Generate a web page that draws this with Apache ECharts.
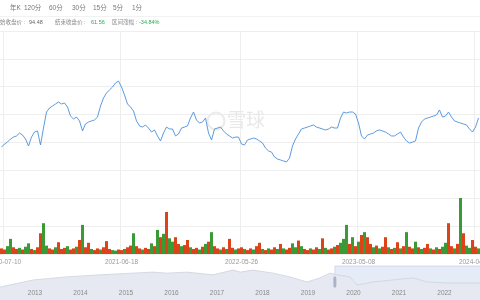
<!DOCTYPE html>
<html><head><meta charset="utf-8">
<script src="https://cdn.jsdelivr.net/npm/echarts@6/dist/echarts.min.js"></script>
<style>html,body{margin:0;padding:0;background:#fff}#c{width:480px;height:300px}</style>
</head><body><div id="c"></div>
<script>
const periodTabs = ['年K','120分','60分','30分','15分','5分','1分'];
const statLabels = ['起始收盘价 : ','结束收盘价 : ','区间涨幅 : '];
const statValues = ['94.48','61.56','-34.84%'];
const dateTicks = {1:'2020-07-10',40:'2021-06-18',80:'2022-05-26',119:'2023-05-08',158:'2024-04-19'};
const priceValues = [
16.5,18.7,20.1,22.3,23.7,24.5,26.6,25.2,22.3,17.3,
23.7,27.3,28.1,18.0,30.2,41.7,44.6,46.0,47.5,48.9,
47.5,48.2,45.3,38.8,36.7,38.1,35.3,28.1,33.1,34.5,
35.3,36.0,38.1,46.0,51.8,55.4,57.6,59.7,62.6,64.0,
59.7,54.0,47.5,45.3,42.4,35.3,31.7,30.9,32.4,30.2,
27.3,28.8,24.5,20.9,26.6,30.9,29.5,29.5,24.5,25.9,
30.2,30.9,31.7,37.4,41.7,36.0,33.8,34.5,37.4,26.6,
21.6,29.5,30.2,30.9,28.1,25.9,24.5,23.0,23.7,23.7,
18.7,18.0,21.6,22.3,23.0,22.3,20.9,19.4,15.8,13.7,
12.9,9.4,7.9,7.2,6.5,5.8,8.6,17.3,22.3,25.9,
29.5,30.2,30.9,31.7,32.4,30.9,30.2,29.5,28.8,29.5,
30.9,30.2,30.2,37.4,41.7,41.0,41.7,41.7,40.3,33.8,
24.5,22.3,25.2,25.9,26.6,28.1,28.8,28.1,27.3,25.9,
24.5,24.5,25.9,27.3,23.7,20.9,19.4,20.1,20.9,30.2,
34.5,36.7,37.4,38.1,38.8,39.6,43.2,38.1,38.8,41.7,
38.1,35.3,34.5,33.8,33.1,32.4,29.5,27.3,30.9,37.4
];
const volumeValues = [
10,8,14,27,12,9,11,8,13,19,
9,7,12,37,55,15,10,8,12,21,
9,11,14,8,10,13,25,52,12,20,
9,7,10,8,12,23,9,7,6,8,
7,9,12,15,37,14,10,8,11,9,
19,14,43,30,36,75,28,22,30,18,
14,16,25,12,9,11,8,13,18,22,
39,14,10,8,12,9,27,11,8,10,
12,9,7,10,8,14,20,9,7,10,
8,12,9,18,10,8,11,19,12,24,
14,9,7,10,8,12,9,28,11,8,
10,13,16,20,27,52,18,30,14,22,
34,39,30,18,12,15,10,13,30,12,
9,11,21,10,14,39,13,10,22,12,
9,11,18,10,8,12,9,13,20,55,
14,10,18,100,37,15,11,25,13,10
];
const volumeDir =
  'rrggrrgrgg'+'rgrrggrrgr'+'rrgrrgrgrr'+'grrgrrrggr'+'rgrrgrrgrr'+'grgrgrggrr'+
  'grrgrrgrgr'+'grrgrgrrgr'+'rgrrgrrgrg'+'rrgrgrrggr'+'grrgrrgrgr'+'rgrgggrgrg'+
  'rgrrgrgrrg'+'rgrgrgrrgr'+'grrgrgrggr'+'rgrgrggrrg';
const sliderYears = [2012.0,2012.23,2012.96,2013.70,2014.43,2015.15,2015.59,2015.90,2016.34,2016.91,2017.35,2017.51,2017.79,2018.23,2018.60,2018.98,2019.26,2019.48,2019.64,2019.92,2020.08,2020.43,2020.87,2021.31,2021.62,2022.05,2022.63,2023.0];
const sliderValues = [35,38,59,68,74,79,82,79,82,74,88,82,88,79,68,53,65,79,74,68,44,53,59,65,53,50,50,50];
const sliderWindow = [2019.59, 2023.0];

const categories = priceValues.map((_, i) => String(i));
const RED = '#dc4319', GREEN = '#3a9a35';
const FONT = '"Liberation Sans", "Noto Sans CJK SC", sans-serif';
const isTick = (i) => Object.prototype.hasOwnProperty.call(dateTicks, i);

const graphics = [];
const tabX = [10, 24, 49, 72, 93, 113, 132];
periodTabs.forEach((t, i) => graphics.push({type:'text', left: tabX[i], top: 4.5,
  style:{text:t, fill:'#777', font:'6.5px ' + FONT}}));
graphics.push({type:'rect', left:0, top:16, shape:{width:480, height:0.8}, style:{fill:'#eeeeee'}});
const statX = [[-5.5, 29], [55, 91], [112, 139]];
statLabels.forEach((t, i) => {
  graphics.push({type:'text', left: statX[i][0], top: 19.5, style:{text:t, fill:'#888', font:'5.5px ' + FONT}});
  graphics.push({type:'text', left: statX[i][1], top: 19.5, style:{text:statValues[i], fill: i === 0 ? '#666' : '#2eaa55', font:'5.5px ' + FONT}});
});
graphics.push({type:'circle', shape:{cx:216, cy:121, r:8.5}, style:{fill:'none', stroke:'#ebebeb', lineWidth:2.2}, z:1});
graphics.push({type:'text', left:227, top:110, style:{text:'雪球', fill:'#e8e8e8', font:'19px "Noto Sans CJK SC", sans-serif'}, z:1});

const chart = echarts.init(document.getElementById('c'), null, {renderer:'canvas'});
chart.setOption({
  animation:false,
  backgroundColor:'#fff',
  graphic: graphics,
  grid:[
    {left:0, right:0, top:31, height:139, outerBoundsMode:'none'},
    {left:0, right:0, top:170, height:84, outerBoundsMode:'none'},
    {left:-10.5, right:-10, top:266, bottom:0, outerBoundsMode:'none'}
  ],
  xAxis:[
    {type:'category', gridIndex:0, data:categories, boundaryGap:true,
     axisLine:{show:false}, axisTick:{show:false}, axisLabel:{show:false},
     splitLine:{show:true, interval:(i)=>isTick(i), lineStyle:{color:'#eeeeee', width:1}}},
    {type:'category', gridIndex:1, data:categories, boundaryGap:true,
     axisLine:{show:false}, axisTick:{show:false},
     axisLabel:{show:true, interval:(i)=>isTick(i), formatter:(v, i)=>dateTicks[i] || '',
       fontSize:6.5, color:'#9a9a9a', margin:5, fontFamily:FONT},
     splitLine:{show:true, interval:(i)=>isTick(i), lineStyle:{color:'#eeeeee', width:1}}},
    {type:'value', gridIndex:2, min:2012, max:2023, interval:1, z:10,
     axisLine:{show:false}, axisTick:{show:false}, splitLine:{show:false},
     axisLabel:{inside:true, margin:4, fontSize:6.5, color:'#8a8a8a', fontFamily:FONT,
       showMinLabel:false, showMaxLabel:false, formatter:(v)=>String(v)}}
  ],
  yAxis:[
    {type:'value', gridIndex:0, min:0, max:100, interval:20,
     axisLine:{show:false}, axisTick:{show:false}, axisLabel:{show:false},
     splitLine:{show:true, lineStyle:{color:'#eeeeee', width:1}}},
    {type:'value', gridIndex:1, min:0, max:150, interval:50,
     axisLine:{show:false}, axisTick:{show:false}, axisLabel:{show:false},
     splitLine:{show:true, lineStyle:{color:'#eeeeee', width:1}}},
    {type:'value', gridIndex:2, min:0, max:100, show:false}
  ],
  series:[
    {type:'line', xAxisIndex:0, yAxisIndex:0, data:priceValues, symbol:'none',
     lineStyle:{color:'#4a8fdc', width:0.9}, z:3},
    {type:'bar', xAxisIndex:1, yAxisIndex:1, barCategoryGap:'0%',
     data: volumeValues.map((v, i)=>({value:v, itemStyle:{color: volumeDir[i] === 'r' ? RED : GREEN}}))},
    {type:'line', xAxisIndex:2, yAxisIndex:2, symbol:'none',
     data: sliderYears.map((y, i)=>[y, sliderValues[i]]),
     lineStyle:{color:'#ccd3df', width:0.8}, areaStyle:{color:'#e6e9f1', opacity:1},
     markArea:{silent:true, itemStyle:{color:'rgba(180,200,232,0.35)', borderColor:'#bccbe2', borderWidth:0.6},
       data:[[{xAxis:sliderWindow[0]}, {xAxis:sliderWindow[1]}]]},
     markPoint:{silent:true, symbol:'roundRect', symbolSize:[3,11], itemStyle:{color:'#aab4c6'}, label:{show:false},
       data:[{coord:[sliderWindow[0], 53]}]}}
  ]
});
</script></body></html>
